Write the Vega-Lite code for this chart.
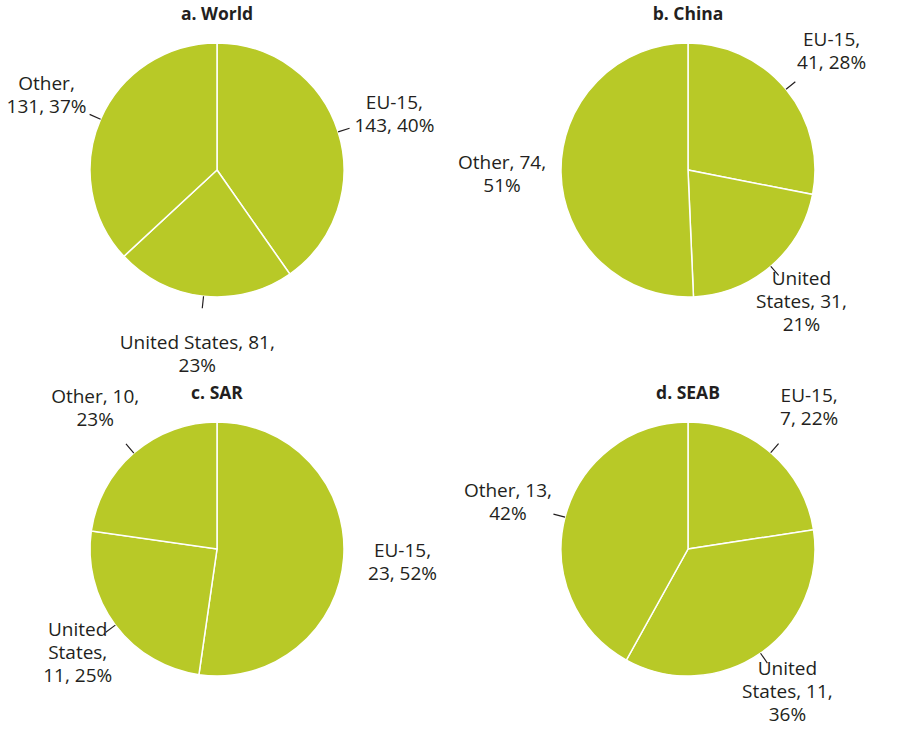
{
  "$schema": "https://vega.github.io/schema/vega-lite/v6.json",
  "data": {
    "values": [
      {"panel": "a. World", "seq": 1, "category": "EU-15", "value": 143, "label": "EU-15,\n143, 40%"},
      {"panel": "a. World", "seq": 2, "category": "United States", "value": 81, "label": "United States, 81,\n23%"},
      {"panel": "a. World", "seq": 3, "category": "Other", "value": 131, "label": "Other,\n131, 37%"},
      {"panel": "b. China", "seq": 1, "category": "EU-15", "value": 41, "label": "EU-15,\n41, 28%"},
      {"panel": "b. China", "seq": 2, "category": "United States", "value": 31, "label": "United\nStates, 31,\n21%"},
      {"panel": "b. China", "seq": 3, "category": "Other", "value": 74, "label": "Other, 74,\n51%"},
      {"panel": "c. SAR", "seq": 1, "category": "EU-15", "value": 23, "label": "EU-15,\n23, 52%"},
      {"panel": "c. SAR", "seq": 2, "category": "United States", "value": 11, "label": "United\nStates,\n11, 25%"},
      {"panel": "c. SAR", "seq": 3, "category": "Other", "value": 10, "label": "Other, 10,\n23%"},
      {"panel": "d. SEAB", "seq": 1, "category": "EU-15", "value": 7, "label": "EU-15,\n7, 22%"},
      {"panel": "d. SEAB", "seq": 2, "category": "United States", "value": 11, "label": "United\nStates, 11,\n36%"},
      {"panel": "d. SEAB", "seq": 3, "category": "Other", "value": 13, "label": "Other, 13,\n42%"}
    ]
  },
  "bounds": "flush",
  "padding": {"left": 5, "right": 5, "top": 5, "bottom": 5},
  "columns": 2,
  "spacing": {"column": 47, "row": 49},
  "concat": [
    {
      "transform": [{"filter": "datum.panel == 'a. World'"}],
      "width": 424,
      "height": 330,
      "layer": [
        {"mark": {"type": "arc", "outerRadius": 127, "fill": "#b8c927", "stroke": "white", "strokeWidth": 1.5},
         "encoding": {"theta": {"field": "value", "type": "quantitative", "stack": "normalize"}, "order": {"field": "seq", "type": "quantitative"}}},
        {"transform": [{"stack": "value", "groupby": ["panel"], "sort": [{"field": "seq", "order": "ascending"}], "offset": "normalize", "as": ["t0", "t1"]}, {"filter": "datum.t1 - datum.t0 < 0.5"}],
         "mark": {"type": "arc", "radius": 139, "radius2": 127, "padAngle": 3, "filled": false, "stroke": "#231f20", "strokeWidth": 1.2},
         "encoding": {"theta": {"field": "t0", "type": "quantitative", "scale": {"domain": [0, 1]}}, "theta2": {"field": "t1"}}},
        {"mark": {"type": "text", "radius": {"expr": "length(split(datum.label, '\\n')) > 2 ? 174 : 186"}, "dy": {"expr": "-(length(split(datum.label, '\\n')) - 1) * 11.5"}, "font": "Open Sans", "fontSize": 19, "color": "#231f20", "lineBreak": "\n", "lineHeight": 23, "align": "center", "baseline": "middle"},
         "encoding": {"theta": {"field": "value", "type": "quantitative", "stack": "normalize"}, "order": {"field": "seq", "type": "quantitative"}, "text": {"field": "label", "type": "nominal"}}},
        {"transform": [{"filter": "datum.seq == 1"}],
         "mark": {"type": "text", "theta": 0, "radius": 155, "font": "Open Sans", "fontSize": 17.5, "fontWeight": "bold", "color": "#231f20", "align": "center", "baseline": "middle"},
         "encoding": {"text": {"field": "panel", "type": "nominal"}}}
      ]
    },
    {
      "transform": [{"filter": "datum.panel == 'b. China'"}],
      "width": 424,
      "height": 330,
      "layer": [
        {"mark": {"type": "arc", "outerRadius": 127, "fill": "#b8c927", "stroke": "white", "strokeWidth": 1.5},
         "encoding": {"theta": {"field": "value", "type": "quantitative", "stack": "normalize"}, "order": {"field": "seq", "type": "quantitative"}}},
        {"transform": [{"stack": "value", "groupby": ["panel"], "sort": [{"field": "seq", "order": "ascending"}], "offset": "normalize", "as": ["t0", "t1"]}, {"filter": "datum.t1 - datum.t0 < 0.5"}],
         "mark": {"type": "arc", "radius": 139, "radius2": 127, "padAngle": 3, "filled": false, "stroke": "#231f20", "strokeWidth": 1.2},
         "encoding": {"theta": {"field": "t0", "type": "quantitative", "scale": {"domain": [0, 1]}}, "theta2": {"field": "t1"}}},
        {"mark": {"type": "text", "radius": {"expr": "length(split(datum.label, '\\n')) > 2 ? 174 : 186"}, "dy": {"expr": "-(length(split(datum.label, '\\n')) - 1) * 11.5"}, "font": "Open Sans", "fontSize": 19, "color": "#231f20", "lineBreak": "\n", "lineHeight": 23, "align": "center", "baseline": "middle"},
         "encoding": {"theta": {"field": "value", "type": "quantitative", "stack": "normalize"}, "order": {"field": "seq", "type": "quantitative"}, "text": {"field": "label", "type": "nominal"}}},
        {"transform": [{"filter": "datum.seq == 1"}],
         "mark": {"type": "text", "theta": 0, "radius": 155, "font": "Open Sans", "fontSize": 17.5, "fontWeight": "bold", "color": "#231f20", "align": "center", "baseline": "middle"},
         "encoding": {"text": {"field": "panel", "type": "nominal"}}}
      ]
    },
    {
      "transform": [{"filter": "datum.panel == 'c. SAR'"}],
      "width": 424,
      "height": 330,
      "layer": [
        {"mark": {"type": "arc", "outerRadius": 127, "fill": "#b8c927", "stroke": "white", "strokeWidth": 1.5},
         "encoding": {"theta": {"field": "value", "type": "quantitative", "stack": "normalize"}, "order": {"field": "seq", "type": "quantitative"}}},
        {"transform": [{"stack": "value", "groupby": ["panel"], "sort": [{"field": "seq", "order": "ascending"}], "offset": "normalize", "as": ["t0", "t1"]}, {"filter": "datum.t1 - datum.t0 < 0.5"}],
         "mark": {"type": "arc", "radius": 139, "radius2": 127, "padAngle": 3, "filled": false, "stroke": "#231f20", "strokeWidth": 1.2},
         "encoding": {"theta": {"field": "t0", "type": "quantitative", "scale": {"domain": [0, 1]}}, "theta2": {"field": "t1"}}},
        {"mark": {"type": "text", "radius": {"expr": "length(split(datum.label, '\\n')) > 2 ? 174 : 186"}, "dy": {"expr": "-(length(split(datum.label, '\\n')) - 1) * 11.5"}, "font": "Open Sans", "fontSize": 19, "color": "#231f20", "lineBreak": "\n", "lineHeight": 23, "align": "center", "baseline": "middle"},
         "encoding": {"theta": {"field": "value", "type": "quantitative", "stack": "normalize"}, "order": {"field": "seq", "type": "quantitative"}, "text": {"field": "label", "type": "nominal"}}},
        {"transform": [{"filter": "datum.seq == 1"}],
         "mark": {"type": "text", "theta": 0, "radius": 155, "font": "Open Sans", "fontSize": 17.5, "fontWeight": "bold", "color": "#231f20", "align": "center", "baseline": "middle"},
         "encoding": {"text": {"field": "panel", "type": "nominal"}}}
      ]
    },
    {
      "transform": [{"filter": "datum.panel == 'd. SEAB'"}],
      "width": 424,
      "height": 330,
      "layer": [
        {"mark": {"type": "arc", "outerRadius": 127, "fill": "#b8c927", "stroke": "white", "strokeWidth": 1.5},
         "encoding": {"theta": {"field": "value", "type": "quantitative", "stack": "normalize"}, "order": {"field": "seq", "type": "quantitative"}}},
        {"transform": [{"stack": "value", "groupby": ["panel"], "sort": [{"field": "seq", "order": "ascending"}], "offset": "normalize", "as": ["t0", "t1"]}, {"filter": "datum.t1 - datum.t0 < 0.5"}],
         "mark": {"type": "arc", "radius": 139, "radius2": 127, "padAngle": 3, "filled": false, "stroke": "#231f20", "strokeWidth": 1.2},
         "encoding": {"theta": {"field": "t0", "type": "quantitative", "scale": {"domain": [0, 1]}}, "theta2": {"field": "t1"}}},
        {"mark": {"type": "text", "radius": {"expr": "length(split(datum.label, '\\n')) > 2 ? 174 : 186"}, "dy": {"expr": "-(length(split(datum.label, '\\n')) - 1) * 11.5"}, "font": "Open Sans", "fontSize": 19, "color": "#231f20", "lineBreak": "\n", "lineHeight": 23, "align": "center", "baseline": "middle"},
         "encoding": {"theta": {"field": "value", "type": "quantitative", "stack": "normalize"}, "order": {"field": "seq", "type": "quantitative"}, "text": {"field": "label", "type": "nominal"}}},
        {"transform": [{"filter": "datum.seq == 1"}],
         "mark": {"type": "text", "theta": 0, "radius": 155, "font": "Open Sans", "fontSize": 17.5, "fontWeight": "bold", "color": "#231f20", "align": "center", "baseline": "middle"},
         "encoding": {"text": {"field": "panel", "type": "nominal"}}}
      ]
    }
  ],
  "config": {"view": {"stroke": null}}
}
